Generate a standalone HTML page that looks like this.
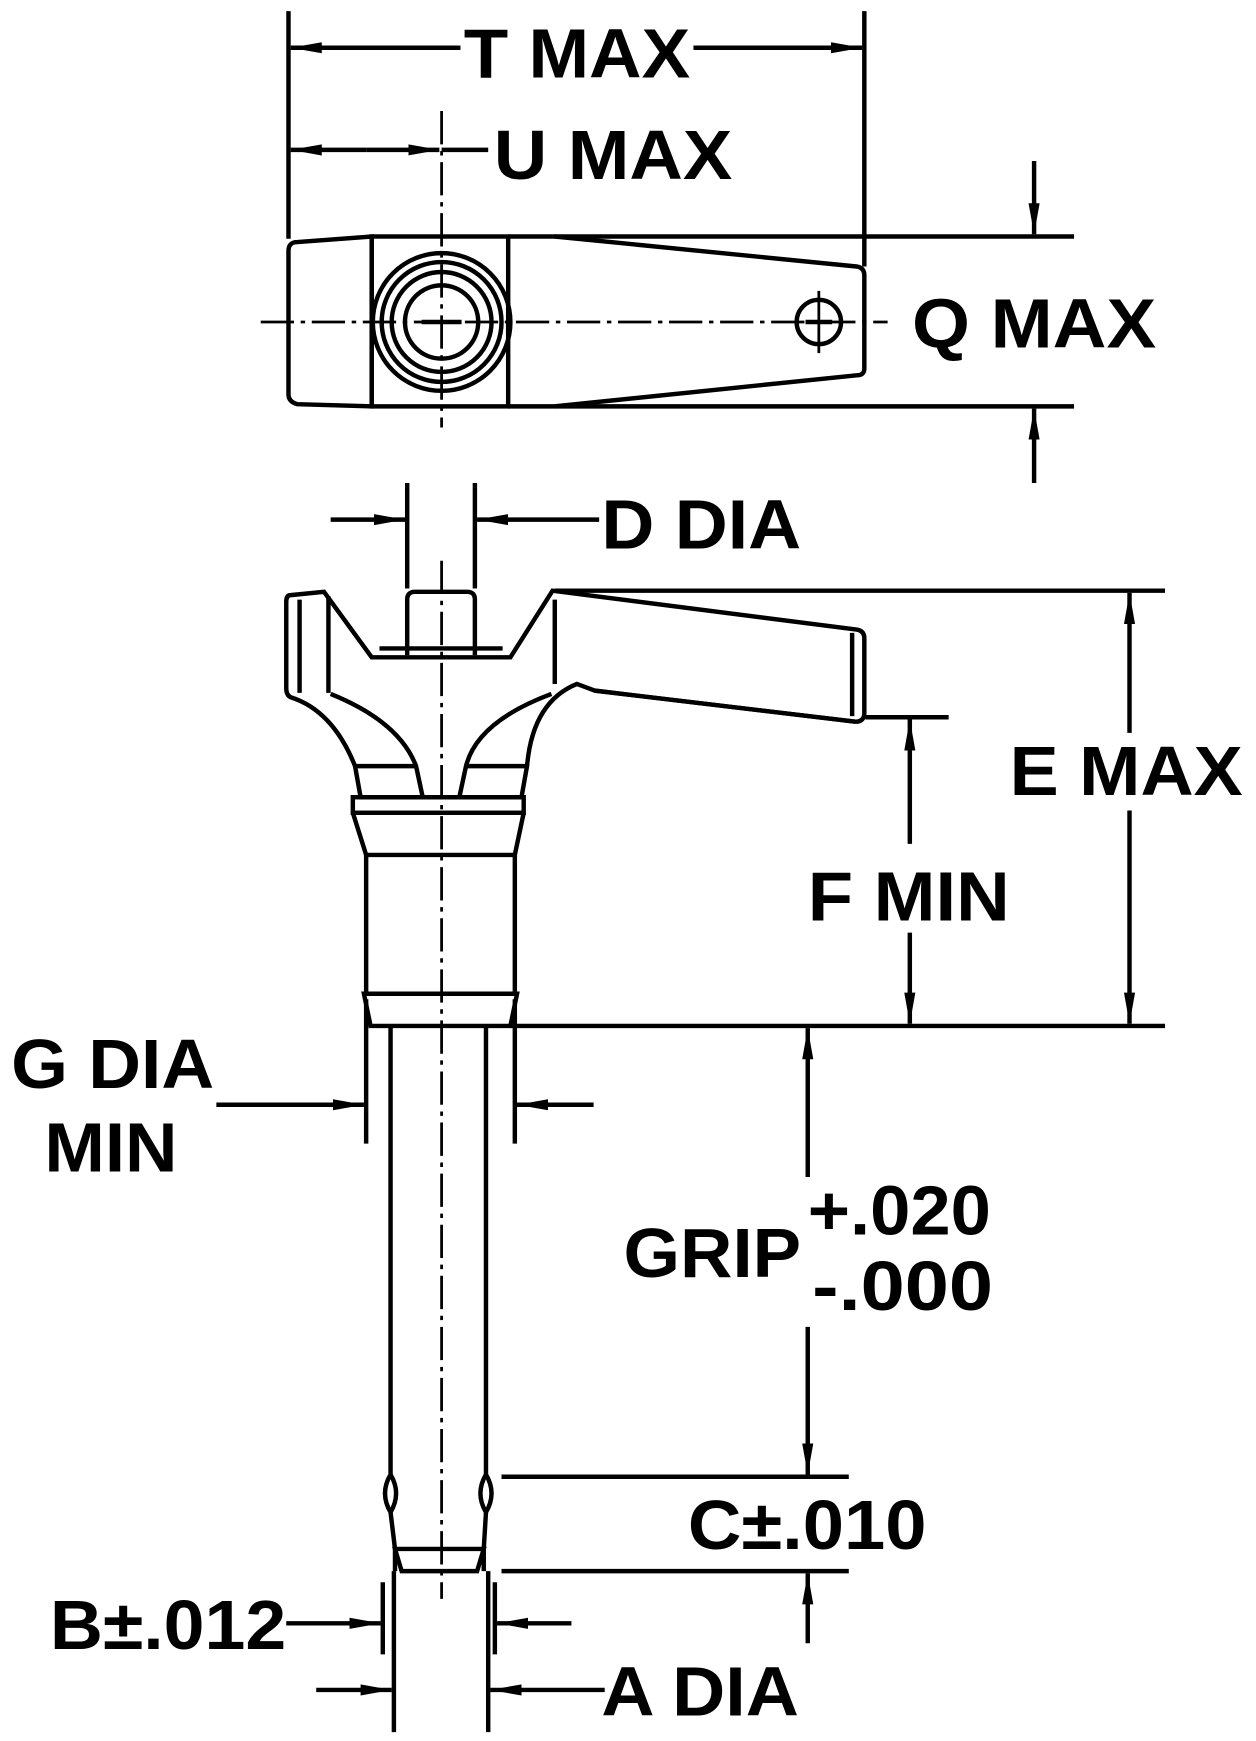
<!DOCTYPE html>
<html><head><meta charset="utf-8"><style>
html,body{margin:0;padding:0;background:#fff;}
svg{display:block;}
text{font-family:"Liberation Sans",Arial,sans-serif;font-weight:bold;font-size:63px;fill:#000;}
</style></head><body>
<svg width="1256" height="1741" viewBox="0 0 1132 1568" preserveAspectRatio="none" xmlns="http://www.w3.org/2000/svg">
<defs>
<marker id="a" viewBox="0 0 28 12" refX="28" refY="6" markerWidth="28" markerHeight="12" markerUnits="userSpaceOnUse" orient="auto"><path d="M0,1 L28,6 L0,11 z" fill="#000"/></marker>
</defs>
<g stroke="#000" stroke-width="4" fill="none">
<line x1="260" y1="10" x2="260" y2="215"/>
<line x1="779" y1="10" x2="779" y2="240"/>
<line x1="415" y1="43" x2="262" y2="43" marker-end="url(#a)"/>
<line x1="625" y1="43" x2="777" y2="43" marker-end="url(#a)"/>
<line x1="330" y1="135" x2="262" y2="135" marker-end="url(#a)"/>
<line x1="330" y1="135" x2="396" y2="135" marker-end="url(#a)"/>
<line x1="398" y1="135" x2="440" y2="135"/>
<line x1="398" y1="100" x2="398" y2="385" stroke-width="2.5" stroke-dasharray="30,6,4,6"/>
<path d="M268,218 L335,213 L335,366 L268,364 Q260,362 260,355 L260,226 Q260,218 268,218 Z"/>
<rect x="335" y="213" width="123" height="153"/>
<path d="M458,213 L500,213 L772,240 Q779,241 779,248 L779,332 Q779,338 772,338 L500,366 L458,366"/>
<circle cx="398" cy="290" r="62"/>
<circle cx="398" cy="290" r="54"/>
<circle cx="398" cy="290" r="45"/>
<circle cx="398" cy="290" r="33"/>
<line x1="380" y1="290" x2="416" y2="290"/>
<circle cx="738" cy="290" r="20"/>
<line x1="726" y1="290" x2="750" y2="290"/>
<line x1="738" y1="262" x2="738" y2="318" stroke-width="2.5"/>
<line x1="235" y1="290" x2="800" y2="290" stroke-width="2.5" stroke-dasharray="30,6,4,6"/>
<line x1="500" y1="213" x2="968" y2="213"/>
<line x1="500" y1="366" x2="968" y2="366"/>
<line x1="932" y1="145" x2="932" y2="211" marker-end="url(#a)"/>
<line x1="932" y1="435" x2="932" y2="368" marker-end="url(#a)"/>
<line x1="367" y1="435" x2="367" y2="530"/>
<line x1="428" y1="435" x2="428" y2="530"/>
<line x1="298" y1="468" x2="365" y2="468" marker-end="url(#a)"/>
<line x1="540" y1="468" x2="430" y2="468" marker-end="url(#a)"/>
<path d="M367,590 L367,540 Q367,533 374,533 L421,533 Q428,533 428,540 L428,590"/>
<path d="M262,536 L292,533 L335,592 L460,592 L498,532 L772,567 Q779,568 779,575 L779,642 Q779,650 771,650 L536,622 L520,616 Q480,632 475,690 L470,718 L325,718 L320,690 Q300,640 262,628 Q258,626 258,620 L258,542 Q258,536 262,536 Z"/>
<line x1="270" y1="540" x2="270" y2="624"/>
<line x1="296" y1="537" x2="296" y2="624"/>
<line x1="342" y1="584" x2="453" y2="584"/>
<line x1="500" y1="540" x2="500" y2="616"/>
<line x1="536" y1="622" x2="771" y2="650"/>
<line x1="768" y1="570" x2="768" y2="645"/>
<path d="M298,625 Q360,650 375,690 L381,718"/>
<path d="M497,625 Q430,650 420,690 L414,718"/>
<line x1="320" y1="690" x2="375" y2="690"/>
<line x1="420" y1="690" x2="475" y2="690"/>
<rect x="318" y="718" width="154" height="14"/>
<path d="M318,732 L330,770 L464,770 L472,732"/>
<line x1="330" y1="770" x2="330" y2="895"/>
<line x1="464" y1="770" x2="464" y2="895"/>
<path d="M328,895 L466,895 L460,924 L334,924 Z"/>
<path d="M352,924 L352,1328 Q342,1345 352,1362 L356,1395 L356,1415"/>
<path d="M438,924 L438,1328 Q448,1345 438,1362 L436,1395 L436,1415"/>
<path d="M352,1328 Q362,1345 352,1362"/>
<path d="M438,1328 Q428,1345 438,1362"/>
<path d="M356,1395 L436,1395 L430,1415 L362,1415 Z"/>
<line x1="398" y1="505" x2="398" y2="1440" stroke-width="2.5" stroke-dasharray="30,6,4,6"/>
<line x1="500" y1="532" x2="1050" y2="532"/>
<line x1="460" y1="924" x2="1050" y2="924"/>
<line x1="1018" y1="660" x2="1018" y2="534" marker-end="url(#a)"/>
<line x1="1018" y1="730" x2="1018" y2="922" marker-end="url(#a)"/>
<line x1="780" y1="646" x2="855" y2="646"/>
<line x1="820" y1="760" x2="820" y2="648" marker-end="url(#a)"/>
<line x1="820" y1="840" x2="820" y2="922" marker-end="url(#a)"/>
<line x1="330" y1="900" x2="330" y2="1030"/>
<line x1="464" y1="900" x2="464" y2="1030"/>
<line x1="195" y1="995" x2="328" y2="995" marker-end="url(#a)"/>
<line x1="535" y1="995" x2="466" y2="995" marker-end="url(#a)"/>
<line x1="728" y1="1060" x2="728" y2="926" marker-end="url(#a)"/>
<line x1="728" y1="1195" x2="728" y2="1328" marker-end="url(#a)"/>
<line x1="452" y1="1330" x2="765" y2="1330"/>
<line x1="452" y1="1415" x2="765" y2="1415"/>
<line x1="728" y1="1480" x2="728" y2="1417" marker-end="url(#a)"/>
<line x1="345" y1="1425" x2="345" y2="1490"/>
<line x1="446" y1="1425" x2="446" y2="1490"/>
<line x1="258" y1="1462" x2="343" y2="1462" marker-end="url(#a)"/>
<line x1="515" y1="1462" x2="448" y2="1462" marker-end="url(#a)"/>
<line x1="355" y1="1415" x2="355" y2="1560"/>
<line x1="440" y1="1415" x2="440" y2="1560"/>
<line x1="285" y1="1522" x2="353" y2="1522" marker-end="url(#a)"/>
<line x1="545" y1="1522" x2="442" y2="1522" marker-end="url(#a)"/>
</g>
<g>
<text x="418" y="70" textLength="204" lengthAdjust="spacingAndGlyphs">T MAX</text>
<text x="445" y="161" textLength="215" lengthAdjust="spacingAndGlyphs">U MAX</text>
<text x="822" y="313" textLength="220" lengthAdjust="spacingAndGlyphs">Q MAX</text>
<text x="542" y="494" textLength="180" lengthAdjust="spacingAndGlyphs">D DIA</text>
<text x="910" y="716" textLength="210" lengthAdjust="spacingAndGlyphs">E MAX</text>
<text x="728" y="829" textLength="182" lengthAdjust="spacingAndGlyphs">F MIN</text>
<text x="10" y="980" textLength="183" lengthAdjust="spacingAndGlyphs">G DIA</text>
<text x="40" y="1055" textLength="120" lengthAdjust="spacingAndGlyphs">MIN</text>
<text x="562" y="1150" textLength="160" lengthAdjust="spacingAndGlyphs">GRIP</text>
<text x="728" y="1112" textLength="165" lengthAdjust="spacingAndGlyphs">+.020</text>
<text x="732" y="1180" textLength="163" lengthAdjust="spacingAndGlyphs">-.000</text>
<text x="620" y="1395" textLength="215" lengthAdjust="spacingAndGlyphs">C±.010</text>
<text x="45" y="1485" textLength="213" lengthAdjust="spacingAndGlyphs">B±.012</text>
<text x="542" y="1545" textLength="178" lengthAdjust="spacingAndGlyphs">A DIA</text>
</g>
</svg>
</body></html>
